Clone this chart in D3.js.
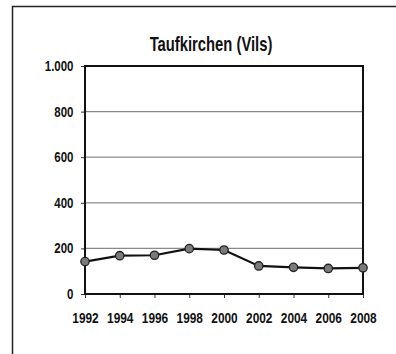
<!DOCTYPE html>
<html>
<head>
<meta charset="utf-8">
<script src="https://cdn.jsdelivr.net/npm/d3@7"></script>
<style>
  html, body { margin: 0; padding: 0; background: #fff; }
  svg { display: block; }
  text { font-family: "Liberation Sans", Arial, sans-serif; font-weight: bold; fill: #111; }
</style>
</head>
<body>
<script>
// Population series for Taufkirchen (Vils)
const years = [1992, 1994, 1996, 1998, 2000, 2002, 2004, 2006, 2008];
const values = [142, 168, 170, 199, 193, 123, 117, 112, 115];
const yTicks = [0, 200, 400, 600, 800, 1000];
const title = "Taufkirchen (Vils)";

const W = 396, H = 354;
const m = { left: 85, right: 33, top: 66, bottom: 60 };
const narrow = 0.82;   // horizontal squeeze for a condensed look

const svg = d3.select("body").append("svg").attr("width", W).attr("height", H);

// outer frame
svg.append("rect").attr("x", 12.5).attr("y", 6.5).attr("width", 420).attr("height", 420)
  .attr("fill", "none").attr("stroke", "#222").attr("stroke-width", 1.5);

const x = d3.scaleLinear().domain([1992, 2008]).range([m.left, W - m.right]);
const y = d3.scaleLinear().domain([0, 1000]).range([H - m.bottom, m.top]);

// horizontal gridlines
svg.append("g").selectAll("line").data(yTicks.filter(t => t > 0 && t < 1000)).join("line")
  .attr("x1", x(1992)).attr("x2", x(2008))
  .attr("y1", d => y(d)).attr("y2", d => y(d))
  .attr("stroke", "#8a8a8a").attr("stroke-width", 1.2);

const fmt = d => d === 1000 ? "1.000" : String(d);

// y axis
const gy = svg.append("g").attr("transform", `translate(${x(1992)},0)`)
  .call(d3.axisLeft(y).tickValues(yTicks).tickFormat(fmt).tickSize(4));
gy.select(".domain").remove();
gy.selectAll("line").attr("stroke", "#333");
gy.selectAll("text").style("font-size", "14px")
  .attr("x", -11.5 / narrow).attr("transform", `scale(${narrow},1)`);

// x axis
const gx = svg.append("g").attr("transform", `translate(0,${y(0)})`)
  .call(d3.axisBottom(x).tickValues(years).tickFormat(d3.format("d")).tickSize(4).tickPadding(15));
gx.select(".domain").remove();
gx.selectAll("line").attr("stroke", "#333");
gx.selectAll("text").style("font-size", "14.5px").attr("transform", `scale(${narrow},1)`);

// plot frame
svg.append("rect").attr("x", x(1992)).attr("y", y(1000))
  .attr("width", x(2008) - x(1992)).attr("height", y(0) - y(1000))
  .attr("fill", "none").attr("stroke", "#111").attr("stroke-width", 2);

// line
const line = d3.line().x((d, i) => x(years[i])).y(d => y(d));
svg.append("path").datum(values).attr("d", line)
  .attr("fill", "none").attr("stroke", "#111").attr("stroke-width", 2.2);

// markers
svg.append("g").selectAll("circle").data(values).join("circle")
  .attr("cx", (d, i) => x(years[i])).attr("cy", d => y(d)).attr("r", 4.2)
  .attr("fill", "#7a7a7a").attr("stroke", "#222").attr("stroke-width", 1.3);

// title
svg.append("text").attr("transform", "translate(211,51) scale(0.74,1)")
  .attr("text-anchor", "middle").style("font-size", "20px").text(title);
</script>
</body>
</html>
